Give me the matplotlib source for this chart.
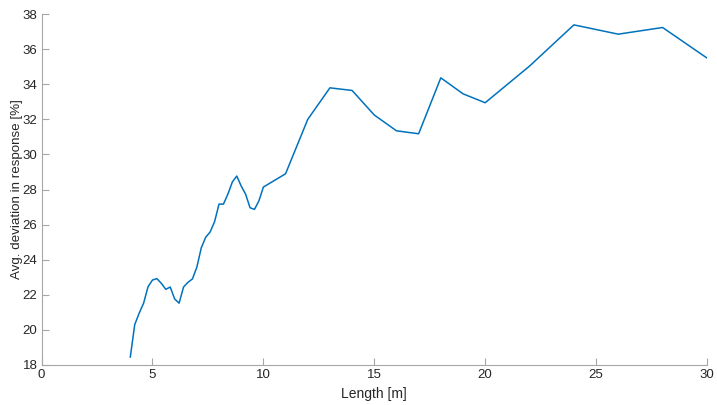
import matplotlib
matplotlib.use("Agg")
import matplotlib.pyplot as plt

plt.rcParams['font.family'] = ['Liberation Sans', 'DejaVu Sans']

length_m = [4.0, 4.2, 4.4, 4.6, 4.8, 5.0, 5.2, 5.4, 5.6, 5.8, 6.0, 6.2, 6.4, 6.6,
            6.8, 7.0, 7.2, 7.4, 7.6, 7.8, 8.0, 8.2, 8.4, 8.6, 8.8, 9.0, 9.2, 9.4,
            9.6, 9.8, 10, 11, 12, 13, 14, 15, 16, 17, 18, 19, 20, 22, 24, 26, 28, 30]
avg_deviation = [18.45, 20.3, 20.95, 21.52, 22.46, 22.84, 22.92, 22.65, 22.31, 22.44,
                 21.76, 21.52, 22.44, 22.71, 22.90, 23.57, 24.68, 25.28, 25.58, 26.17,
                 27.17, 27.17, 27.74, 28.43, 28.77, 28.2, 27.73, 26.96, 26.87, 27.36,
                 28.14, 28.9, 32.0, 33.8, 33.65, 32.25, 31.35, 31.18, 34.37, 33.46,
                 32.95, 35.04, 37.39, 36.86, 37.24, 35.5]

x_ticks = [0, 5, 10, 15, 20, 25, 30]
y_ticks = [18, 20, 22, 24, 26, 28, 30, 32, 34, 36, 38]

fig = plt.figure(figsize=(7.17, 4.05), dpi=100)
ax = fig.add_axes([0.058, 0.099, 0.928, 0.866])
ax.plot(length_m, avg_deviation, color=(0, 0.447, 0.741), lw=1.1)

ax.set_xlim(0, 30)
ax.set_ylim(18, 38)
ax.set_xticks(x_ticks)
ax.set_yticks(y_ticks)

axis_gray = '#a6a6a6'
text_col = '#262626'
for side in ('top', 'right'):
    ax.spines[side].set_visible(False)
for side in ('left', 'bottom'):
    ax.spines[side].set_color(axis_gray)
    ax.spines[side].set_linewidth(0.8)
ax.tick_params(direction='in', length=5, width=0.8, color=axis_gray,
               labelcolor=text_col, labelsize=9.5, pad=3)

ax.set_xlabel('Length [m]', fontsize=10, color=text_col, labelpad=4)
ax.set_ylabel('Avg. deviation in response [%]', fontsize=9.6, color=text_col, labelpad=0)

fig.savefig('out.png', dpi=100)
